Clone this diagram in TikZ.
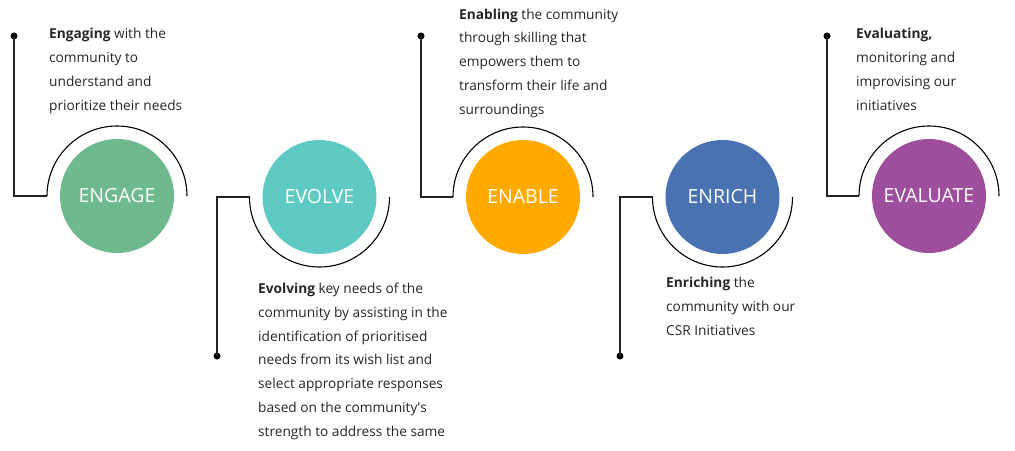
\documentclass[tikz,border=0pt]{standalone}
\usepackage{fontspec}
\setmainfont{Open Sans}
\definecolor{cengage}{HTML}{6FB98F}
\definecolor{cevolve}{HTML}{5FC9C3}
\definecolor{cenable}{HTML}{FFAA00}
\definecolor{cenrich}{HTML}{4A72B2}
\definecolor{cevaluate}{HTML}{9D4F9E}
\definecolor{linegray}{HTML}{222222}
\begin{document}
\begin{tikzpicture}[x=1pt,y=-1pt,
  bubble/.style={circle,minimum size=114pt,inner sep=0pt,text=white,
    font=\fontsize{19.5}{21}\selectfont},
  dotnode/.style={circle,fill=black,minimum size=7pt,inner sep=0pt},
  lead/.style={draw=linegray,line width=1.1pt},
  ring/.style={draw=black,line width=1.1pt},
  desc/.style={anchor=base west,inner sep=0pt,align=left,text=black!85,
    font=\fontsize{13.7}{23.7}\selectfont}]
\useasboundingbox (0,0) rectangle (1015,450);
% circles
\node[bubble,fill=cengage] (engage) at (117,196) {ENGAGE};
\node[bubble,fill=cevolve] (evolve) at (319.5,197) {EVOLVE};
\node[bubble,fill=cenable] (enable) at (523,197) {ENABLE};
\node[bubble,fill=cenrich] (enrich) at (722.5,197) {ENRICH};
\node[bubble,fill=cevaluate] (evaluate) at (929,196) {EVALUATE};
% arc start points
\coordinate (a1) at (47,196);
\coordinate (a2) at (249.5,197);
\coordinate (a3) at (453,197);
\coordinate (a4) at (652.5,197);
\coordinate (a5) at (859,196);
% dots
\node[dotnode] (d1) at (14,36) {};
\node[dotnode] (d2) at (217,356) {};
\node[dotnode] (d3) at (421,36) {};
\node[dotnode] (d4) at (620,356) {};
\node[dotnode] (d5) at (827,36) {};
% leaders
\draw[lead] (d1.center) |- (a1);
\draw[lead] (d2.center) |- (a2);
\draw[lead] (d3.center) |- (a3);
\draw[lead] (d4.center) |- (a4);
\draw[lead] (d5.center) |- (a5);
% rings
\draw[ring] (a1) arc[start angle=180,end angle=360,radius=70];
\draw[ring] (a2) arc[start angle=180,end angle=0,radius=70];
\draw[ring] (a3) arc[start angle=180,end angle=360,radius=70];
\draw[ring] (a4) arc[start angle=180,end angle=0,radius=70];
\draw[ring] (a5) arc[start angle=180,end angle=360,radius=70];
% descriptions (anchored at the baseline of their last line)
\node[desc] (t1) at (49,110) {\textbf{Engaging} with the\\community to\\understand and\\prioritize their needs};
\node[desc] (t2) at (258,436) {\textbf{Evolving} key needs of the\\community by assisting in the\\identification of prioritised\\needs from its wish list and\\select appropriate responses\\based on the community\textquotesingle s\\strength to address the same};
\node[desc] (t3) at (459,114) {\textbf{Enabling} the community\\through skilling that\\empowers them to\\transform their life and\\surroundings};
\node[desc] (t4) at (666,335) {\textbf{Enriching} the\\community with our\\CSR Initiatives};
\node[desc] (t5) at (856,110) {\textbf{Evaluating,}\\monitoring and\\improvising our\\initiatives};
\end{tikzpicture}
\end{document}
